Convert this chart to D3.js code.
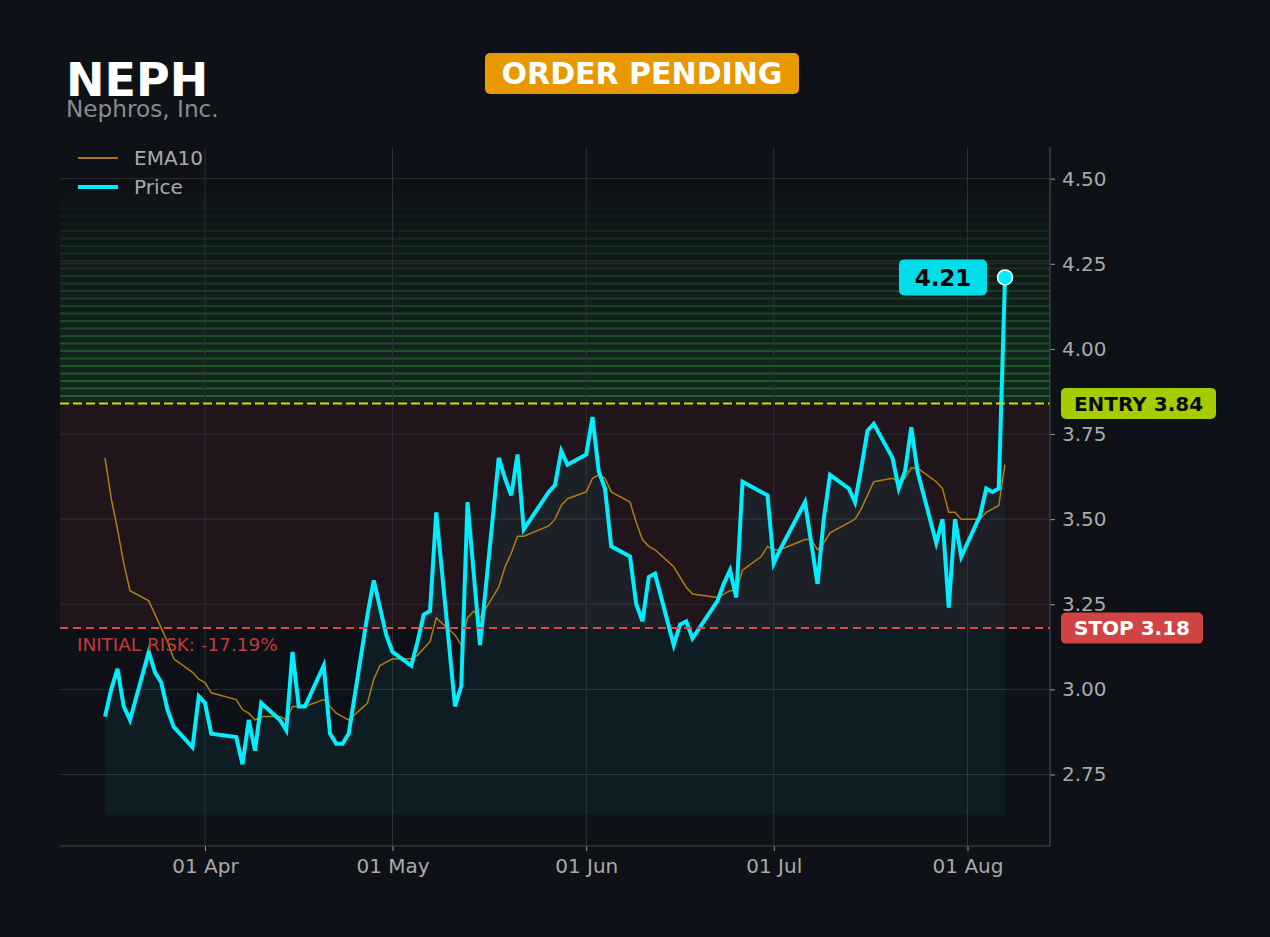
<!DOCTYPE html>
<html>
<head>
<meta charset="utf-8">
<script src="https://cdn.jsdelivr.net/npm/d3@7"></script>
<style>
  body { margin: 0; background: #0e1117; }
  svg { display: block; font-family: "DejaVu Sans", sans-serif; }
</style>
</head>
<body>
<svg id="chart" width="1270" height="937"></svg>
<script>
/*** DATA ***/
const ticker = "NEPH";
const company = "Nephros, Inc.";
const status = "ORDER PENDING";
const entryPrice = 3.84;
const stopPrice = 3.18;
const riskText = "INITIAL RISK: -17.19%";
const zoneTop = 4.50;
const fillBase = 2.63;

const dates = [
  "2026-03-16","2026-03-17","2026-03-18","2026-03-19","2026-03-20","2026-03-23","2026-03-24","2026-03-25","2026-03-26","2026-03-27","2026-03-30","2026-03-31",
  "2026-04-01","2026-04-02","2026-04-06","2026-04-07","2026-04-08","2026-04-09","2026-04-10","2026-04-13","2026-04-14","2026-04-15","2026-04-16","2026-04-17","2026-04-20","2026-04-21","2026-04-22","2026-04-23","2026-04-24","2026-04-27","2026-04-28","2026-04-29","2026-04-30",
  "2026-05-01","2026-05-04","2026-05-05","2026-05-06","2026-05-07","2026-05-08","2026-05-11","2026-05-12","2026-05-13","2026-05-14","2026-05-15","2026-05-18","2026-05-19","2026-05-20","2026-05-21","2026-05-22","2026-05-26","2026-05-27","2026-05-28","2026-05-29",
  "2026-06-01","2026-06-02","2026-06-03","2026-06-04","2026-06-05","2026-06-08","2026-06-09","2026-06-10","2026-06-11","2026-06-12","2026-06-15","2026-06-16","2026-06-17","2026-06-18","2026-06-22","2026-06-23","2026-06-24","2026-06-25","2026-06-26","2026-06-29","2026-06-30",
  "2026-07-01","2026-07-02","2026-07-06","2026-07-07","2026-07-08","2026-07-09","2026-07-10","2026-07-13","2026-07-14","2026-07-15","2026-07-16","2026-07-17","2026-07-20","2026-07-21","2026-07-22","2026-07-23","2026-07-24","2026-07-27","2026-07-28","2026-07-29","2026-07-30","2026-07-31",
  "2026-08-03","2026-08-04","2026-08-05","2026-08-06","2026-08-07"
];

const price = [
  2.92,3.00,3.06,2.95,2.91,3.11,3.05,3.02,2.94,2.89,2.83,2.98,
  2.96,2.87,2.86,2.78,2.91,2.82,2.96,2.91,2.88,3.11,2.95,2.95,3.07,2.87,2.84,2.84,2.87,3.22,3.32,3.24,3.16,
  3.11,3.07,3.14,3.22,3.23,3.52,2.95,3.01,3.55,3.34,3.13,3.68,3.62,3.57,3.69,3.47,3.58,3.60,3.70,3.66,
  3.69,3.80,3.64,3.59,3.42,3.39,3.25,3.20,3.33,3.34,3.13,3.19,3.20,3.15,3.26,3.31,3.35,3.27,3.61,3.58,3.57,
  3.37,3.41,3.55,3.43,3.31,3.50,3.63,3.59,3.55,3.65,3.76,3.78,3.68,3.59,3.64,3.77,3.64,3.43,3.50,3.24,3.50,3.39,
  3.51,3.59,3.58,3.59,4.21
];

const ema10 = [
  3.68,3.56,3.47,3.37,3.29,3.26,3.22,3.18,3.14,3.09,3.05,3.03,
  3.02,2.99,2.97,2.94,2.93,2.91,2.92,2.92,2.91,2.95,2.95,2.95,2.97,2.95,2.93,2.92,2.91,2.96,3.03,3.07,3.08,
  3.09,3.09,3.10,3.12,3.14,3.21,3.16,3.13,3.21,3.23,3.21,3.30,3.36,3.40,3.45,3.45,3.48,3.50,3.54,3.56,
  3.58,3.62,3.63,3.62,3.58,3.55,3.49,3.44,3.42,3.41,3.36,3.33,3.30,3.28,3.27,3.28,3.29,3.29,3.35,3.39,3.42,
  3.41,3.41,3.44,3.44,3.41,3.43,3.46,3.49,3.50,3.53,3.57,3.61,3.62,3.61,3.62,3.65,3.65,3.61,3.59,3.52,3.52,3.50,
  3.50,3.52,3.53,3.54,3.66
];

const xTicks = ["2026-04-01","2026-05-01","2026-06-01","2026-07-01","2026-08-01"];
const yTicks = [2.75, 3.00, 3.25, 3.50, 3.75, 4.00, 4.25, 4.50];

/*** LAYOUT ***/
const margin = {left: 60, right: 1050, top: 147, bottom: 846};
const parse = d3.timeParse("%Y-%m-%d");
const rows = dates.map(function (d, i) {
    return {date: parse(d), price: price[i], ema: ema10[i]};
});

const svg = d3.select("#chart");
svg.append("rect").attr("width", 1270).attr("height", 937).attr("fill", "#0e1117");

// 5% padding on both sides of the time range, like the original
const ext = d3.extent(rows, d => d.date);
const pad = (ext[1] - ext[0]) * 0.05;
const x = d3.scaleTime()
    .domain([new Date(+ext[0] - pad), new Date(+ext[1] + pad)])
    .range([margin.left, margin.right]);
const y = d3.scaleLinear()
    .domain([2.54, 4.593])
    .range([margin.bottom, margin.top]);

svg.append("clipPath").attr("id", "plot")
    .append("rect")
    .attr("x", margin.left).attr("y", margin.top)
    .attr("width", margin.right - margin.left)
    .attr("height", margin.bottom - margin.top);

const plot = svg.append("g").attr("clip-path", "url(#plot)");

/*** ZONES ***/
// red risk zone between stop and entry
plot.append("rect")
    .attr("x", margin.left).attr("width", margin.right - margin.left)
    .attr("y", y(entryPrice)).attr("height", y(stopPrice) - y(entryPrice))
    .attr("fill", "#e84545").attr("opacity", 0.085);

// green target zone, stacked thin bands fading upward
const nBands = 30;
const step = (zoneTop - entryPrice) / nBands;
const bands = d3.range(nBands);
plot.selectAll(".band")
    .data(bands)
    .enter().append("rect")
    .attr("class", "band")
    .attr("x", margin.left).attr("width", margin.right - margin.left)
    .attr("y", i => y(entryPrice + (i + 1) * step))
    .attr("height", i => y(entryPrice + i * step) - y(entryPrice + (i + 1) * step))
    .attr("fill", "#2fb84a")
    .attr("opacity", i => 0.14 * (1 - i / nBands));
plot.selectAll(".bandline")
    .data(bands.slice(1))
    .enter().append("line")
    .attr("class", "bandline")
    .attr("x1", margin.left).attr("x2", margin.right)
    .attr("y1", i => y(entryPrice + i * step))
    .attr("y2", i => y(entryPrice + i * step))
    .attr("stroke", "#36b838")
    .attr("stroke-width", 2)
    .attr("opacity", i => 0.42 * (1 - i / nBands));

/*** GRID ***/
plot.selectAll(".hgrid")
    .data(yTicks)
    .enter().append("line")
    .attr("x1", margin.left).attr("x2", margin.right)
    .attr("y1", d => y(d)).attr("y2", d => y(d))
    .attr("stroke", "#2c2f35").attr("stroke-width", 1);
plot.selectAll(".vgrid")
    .data(xTicks)
    .enter().append("line")
    .attr("x1", d => x(parse(d))).attr("x2", d => x(parse(d)))
    .attr("y1", margin.top).attr("y2", margin.bottom)
    .attr("stroke", "#2c2f35").attr("stroke-width", 1);

/*** SERIES ***/
const area = d3.area()
    .x(d => x(d.date))
    .y0(y(fillBase))
    .y1(d => y(d.price));
plot.append("path")
    .datum(rows)
    .attr("d", area)
    .attr("fill", "#00e5ff")
    .attr("opacity", 0.055);

const emaLine = d3.line().x(d => x(d.date)).y(d => y(d.ema));
plot.append("path")
    .datum(rows)
    .attr("d", emaLine)
    .attr("fill", "none")
    .attr("stroke", "#c08a0c")
    .attr("stroke-opacity", 0.9)
    .attr("stroke-width", 1.5);

const priceLine = d3.line().x(d => x(d.date)).y(d => y(d.price));
plot.append("path")
    .datum(rows)
    .attr("d", priceLine)
    .attr("fill", "none")
    .attr("stroke", "#00eeff")
    .attr("stroke-width", 4);

// entry / stop lines
plot.append("line")
    .attr("x1", margin.left).attr("x2", margin.right)
    .attr("y1", y(entryPrice)).attr("y2", y(entryPrice))
    .attr("stroke", "#c8e000").attr("stroke-width", 2)
    .attr("stroke-dasharray", "9,4");
plot.append("line")
    .attr("x1", margin.left).attr("x2", margin.right)
    .attr("y1", y(stopPrice)).attr("y2", y(stopPrice))
    .attr("stroke", "#e04848").attr("stroke-width", 2)
    .attr("stroke-dasharray", "8,5");

svg.append("text")
    .attr("x", 77).attr("y", y(stopPrice) + 23)
    .attr("fill", "#c23b3b")
    .attr("font-size", 18.4)
    .text(riskText);

/*** AXES ***/
const xAxis = svg.append("g")
    .attr("transform", "translate(0," + margin.bottom + ")")
    .call(d3.axisBottom(x)
        .tickValues(xTicks.map(parse))
        .tickFormat(d3.timeFormat("%d %b"))
        .tickSize(5).tickPadding(8));
const yAxis = svg.append("g")
    .attr("transform", "translate(" + margin.right + ",0)")
    .call(d3.axisRight(y)
        .tickValues(yTicks)
        .tickFormat(d3.format(".2f"))
        .tickSize(5).tickPadding(7));
[xAxis, yAxis].forEach(function (g) {
    g.select(".domain").remove();
    g.selectAll(".tick line").attr("stroke", "#9a9a9a");
    g.selectAll(".tick text")
        .attr("fill", "#aaaaaa")
        .attr("font-size", 20)
        .attr("font-family", "DejaVu Sans");
});

// spines
svg.append("line")
    .attr("x1", margin.left).attr("x2", margin.right)
    .attr("y1", margin.bottom).attr("y2", margin.bottom)
    .attr("stroke", "#44474c").attr("stroke-width", 1.2);
svg.append("line")
    .attr("x1", margin.right).attr("x2", margin.right)
    .attr("y1", margin.top).attr("y2", margin.bottom)
    .attr("stroke", "#44474c").attr("stroke-width", 1.2);

/*** LABELS ***/
function badge(x0, yc, w, h, fill, txt, txtFill, size) {
    svg.append("rect")
        .attr("x", x0).attr("y", yc - h / 2)
        .attr("width", w).attr("height", h)
        .attr("rx", 5)
        .attr("fill", fill);
    svg.append("text")
        .attr("x", x0 + w / 2).attr("y", yc)
        .attr("dy", "0.36em")
        .attr("text-anchor", "middle")
        .attr("font-weight", "bold")
        .attr("font-size", size)
        .attr("fill", txtFill)
        .text(txt);
}

badge(1061, y(entryPrice), 155, 31, "#a6cc00", "ENTRY " + entryPrice.toFixed(2), "#0a0a0a", 20);
badge(1061, y(stopPrice), 142, 31, "#d04444", "STOP " + stopPrice.toFixed(2), "#ffffff", 20);

const last = rows[rows.length - 1];
badge(x(last.date) - 106, y(last.price), 88, 36, "#00dce8", last.price.toFixed(2), "#050505", 23);

svg.append("circle")
    .attr("cx", x(last.date)).attr("cy", y(last.price))
    .attr("r", 7.5)
    .attr("fill", "#00eeff")
    .attr("stroke", "#ffffff")
    .attr("stroke-width", 1.5);

/*** HEADER ***/
svg.append("text")
    .attr("x", 66).attr("y", 96)
    .attr("fill", "#ffffff")
    .attr("font-size", 46)
    .attr("font-weight", "bold")
    .text(ticker);
svg.append("text")
    .attr("x", 66).attr("y", 117)
    .attr("fill", "#888b90")
    .attr("font-size", 23.2)
    .text(company);
badge(485, 73.5, 314, 41, "#e89800", status, "#ffffff", 30);

/*** LEGEND ***/
const legend = [
    {name: "EMA10", color: "#a67812", width: 2, yy: 158},
    {name: "Price", color: "#00eeff", width: 4, yy: 187}
];
legend.forEach(function (l) {
    svg.append("line")
        .attr("x1", 78).attr("x2", 118)
        .attr("y1", l.yy).attr("y2", l.yy)
        .attr("stroke", l.color).attr("stroke-width", l.width);
    svg.append("text")
        .attr("x", 134).attr("y", l.yy)
        .attr("dy", "0.36em")
        .attr("fill", "#aaaaaa")
        .attr("font-size", 20)
        .text(l.name);
});
</script>
</body>
</html>
